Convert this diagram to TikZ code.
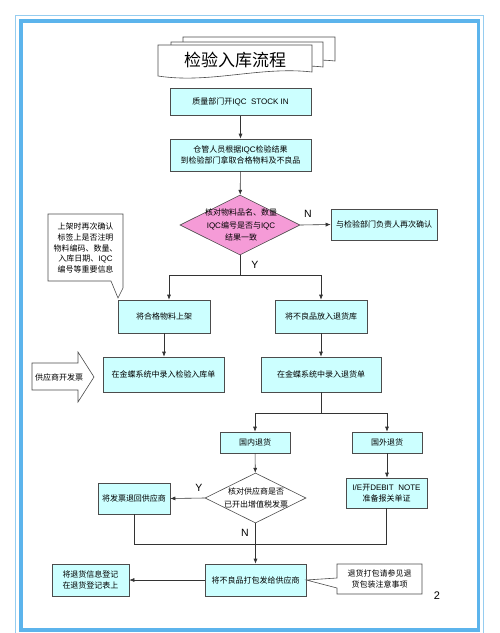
\documentclass[tikz,border=0pt]{standalone}
\usepackage{fontspec}
\setmainfont{Noto Sans CJK SC}
\newfontfamily\latfont{Liberation Sans}
\newcommand\latn[1]{{\latfont #1}}
\usetikzlibrary{shapes.geometric,arrows.meta}
\definecolor{boxc}{RGB}{204,255,255}
\definecolor{pinkc}{RGB}{245,155,215}
\definecolor{framec}{RGB}{92,180,236}
\definecolor{framel}{RGB}{150,205,240}
\begin{document}
\begin{tikzpicture}[x=1pt,y=-1pt,
  box/.style={draw=black!70,fill=boxc,line width=0.6pt,inner sep=0pt,align=center,font=\fontsize{8}{11.5}\selectfont},
  diam/.style={diamond,draw=black!70,line width=0.6pt,inner sep=0pt},
  txt/.style={align=center,inner sep=0pt,font=\fontsize{8}{11.5}\selectfont},
  lbl/.style={inner sep=0pt,font=\latfont\fontsize{10.5}{12}\selectfont},
  arr/.style={draw=black!80,line width=0.6pt,-{Latex[length=5pt,width=4pt]}},
  ln/.style={draw=black!80,line width=0.6pt},
  shp/.style={draw=black!70,fill=white,line width=0.6pt}]
\useasboundingbox (0,0) rectangle (500,633);
\clip (0,0) rectangle (500,633);
% frame
\draw[framel,line width=1pt] (15.5,15.5) rectangle (483,645);
\draw[framec,line width=3.5pt] (20.8,20.8) rectangle (478.5,630);
% title documents
\draw[shp] (183,37) -- (335,37) -- (335,61) .. controls (290,56) and (240,72) .. (183,64) -- cycle;
\draw[shp] (171,42) -- (323,42) -- (323,67) .. controls (280,62) and (230,78) .. (171,70) -- cycle;
\draw[shp] (158,45) -- (312,45) -- (312,72) .. controls (260,66) and (210,84) .. (158,76) -- cycle;
\node[inner sep=0pt,font=\fontsize{17}{20}\selectfont] (title) at (235,60) {检验入库流程};
% main boxes
\node[box,minimum width=141pt,minimum height=27pt] (b1) at (240.5,102) {质量部门开\latn{IQC\ \ STOCK IN}};
\node[box,minimum width=141pt,minimum height=32pt] (b2) at (240.5,155) {仓管人员根据\latn{IQC}检验结果\\到检验部门拿取合格物料及不良品};
\node[diam,fill=pinkc,minimum width=120pt,minimum height=60pt] (d1) at (240,225) {};
\node[txt,font=\fontsize{8}{12.5}\selectfont] (d1t) at (241,225) {核对物料品名、数量\\\latn{IQC}编号是否与\latn{IQC}\\结果一致};
\node[box,minimum width=106pt,minimum height=31pt] (rc) at (384,224.5) {与检验部门负责人再次确认};
\node[box,minimum width=92pt,minimum height=33pt] (ok) at (164,316.5) {将合格物料上架};
\node[box,minimum width=92pt,minimum height=33pt] (bad) at (321,316.5) {将不良品放入退货库};
\node[box,minimum width=121pt,minimum height=35pt] (kd1) at (163.5,374.5) {在金蝶系统中录入检验入库单};
\node[box,minimum width=120pt,minimum height=35pt] (kd2) at (321,374.5) {在金蝶系统中录入退货单};
\node[box,minimum width=70pt,minimum height=21pt] (dom) at (255,442.5) {国内退货};
\node[box,minimum width=70pt,minimum height=21pt] (abr) at (387,442.5) {国外退货};
\node[diam,fill=white,minimum width=101pt,minimum height=50pt] (d2) at (255.5,498) {};
\node[txt,font=\fontsize{8}{12.5}\selectfont] (d2t) at (256,498) {核对供应商是否\\已开出增值税发票};
\node[box,minimum width=72pt,minimum height=31pt] (inv) at (134,498.5) {将发票退回供应商};
\node[box,minimum width=81pt,minimum height=30pt] (ie) at (386.5,493) {\latn{I/E}开\latn{DEBIT\ \ NOTE}\\准备报关单证};
\node[box,minimum width=101pt,minimum height=32pt] (pack) at (255.5,580) {将不良品打包发给供应商};
\node[box,minimum width=77pt,minimum height=32pt] (reg) at (90.5,580) {将退货信息登记\\在退货登记表上};
% callout 1
\draw[shp] (48,214) -- (123,214) -- (123,288) -- (118,298) -- (111,281) -- (48,281) -- cycle;
\node[txt,font=\fontsize{8}{10.6}\selectfont] (c1) at (85.5,248) {上架时再次确认\\标签上是否注明\\物料编码、数量、\\入库日期、\latn{IQC}\\编号等重要信息};
% callout 2
\draw[shp] (337,564) -- (422,564) -- (422,594) -- (337,594) -- (337,588) -- (pack.east) -- (337,578) -- cycle;
\node[txt] (c2) at (379.5,579) {退货打包请参见退\\货包装注意事项};
% block arrow
\draw[shp] (32,363) -- (78,363) -- (78,352) -- (94,377) -- (78,402) -- (78,390) -- (32,390) -- cycle;
\node[txt] (sup) at (59,377) {供应商开发票};
% connectors
\draw[arr] (b1) -- (b2);
\draw[arr] (b2) -- (d1);
\draw[arr] (d1.east) -- (rc.west);
\node[lbl] (n1) at (308,214) {N};
\draw[ln] (d1.south) -- (240,275) coordinate (j1);
\draw[arr] (j1) -| ([xshift=5pt]ok.north);
\draw[arr] (j1) -| (bad.north);
\node[lbl] (y1) at (255,265) {Y};
\draw[arr] (ok.south) -- (kd1.north -| ok.south);
\draw[arr] (bad) -- (kd2);
\draw[ln] (kd2.south) -- (321,413) coordinate (j2);
\draw[arr] (j2) -| (dom.north);
\draw[arr] (j2) -| (abr.north);
\draw[arr] (dom) -- (d2);
\draw[arr] (d2.west) -- (inv.east);
\node[lbl] (y2) at (199,488) {Y};
\draw[arr] (abr.south) -- (ie.north -| abr.south);
\draw[arr] (d2.south) -- (pack.north);
\node[lbl] (n2) at (245,533) {N};
\draw[ln] (inv.south) -- (134,544) -- (ie.south |- 0,544) -- (ie.south);
\draw[arr] (pack.west) -- (reg.east);
\node[lbl,font=\latfont\fontsize{11}{12}\selectfont] (pg) at (437,596) {2};
\end{tikzpicture}
\end{document}
